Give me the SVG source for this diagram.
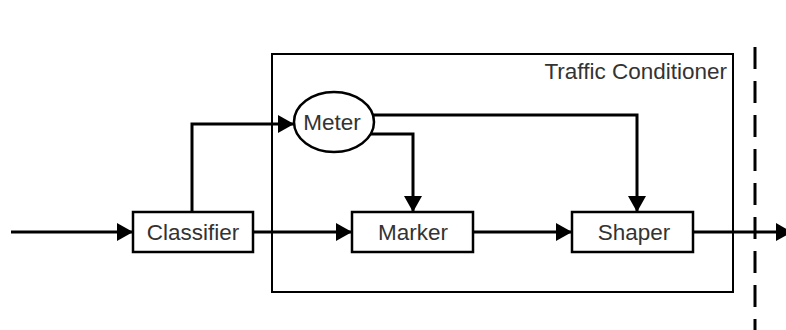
<svg xmlns="http://www.w3.org/2000/svg" width="786" height="330" viewBox="0 0 786 330">
<defs>
<style>
.box{fill:#fff;stroke:#000;stroke-width:2.5}
.tc{fill:none;stroke:#000;stroke-width:2}
.ln{fill:none;stroke:#000;stroke-width:3}
.lbl{font-family:"Liberation Sans",Arial,sans-serif;font-size:22.5px;fill:#333;text-anchor:middle}
</style>
<marker id="ah" markerUnits="userSpaceOnUse" markerWidth="17" markerHeight="18" refX="16" refY="9" orient="auto">
<path d="M0,0 L16,9 L0,18 Z" fill="#000"/>
</marker>
</defs>
<g id="boundary">
<line x1="755" y1="47" x2="755" y2="330" stroke="#000" stroke-width="3" stroke-dasharray="22 12"/>
</g>
<g id="traffic-conditioner">
<rect class="tc" x="272" y="54" width="461" height="238"/>
<text class="lbl" x="727" y="79" style="text-anchor:end">Traffic Conditioner</text>
</g>
<g id="connectors">
<line class="ln" x1="11" y1="232" x2="133" y2="232" marker-end="url(#ah)"/>
<polyline class="ln" points="192,212 192,124 294,124" marker-end="url(#ah)"/>
<line class="ln" x1="253" y1="232" x2="352" y2="232" marker-end="url(#ah)"/>
<polyline class="ln" points="372,115 637,115 637,212" marker-end="url(#ah)"/>
<polyline class="ln" points="366,134 413,134 413,212" marker-end="url(#ah)"/>
<line class="ln" x1="473" y1="232" x2="572" y2="232" marker-end="url(#ah)"/>
<line class="ln" x1="693" y1="232" x2="792" y2="232" marker-end="url(#ah)"/>
</g>
<g id="classifier">
<rect class="box" x="133" y="212" width="120" height="40"/>
<text class="lbl" x="193" y="240">Classifier</text>
</g>
<g id="meter">
<ellipse class="box" cx="334" cy="122" rx="40" ry="30"/>
<text class="lbl" x="332" y="130">Meter</text>
</g>
<g id="marker">
<rect class="box" x="352" y="212" width="121" height="40"/>
<text class="lbl" x="413" y="240">Marker</text>
</g>
<g id="shaper">
<rect class="box" x="572" y="212" width="121" height="40"/>
<text class="lbl" x="634" y="240">Shaper</text>
</g>
</svg>
